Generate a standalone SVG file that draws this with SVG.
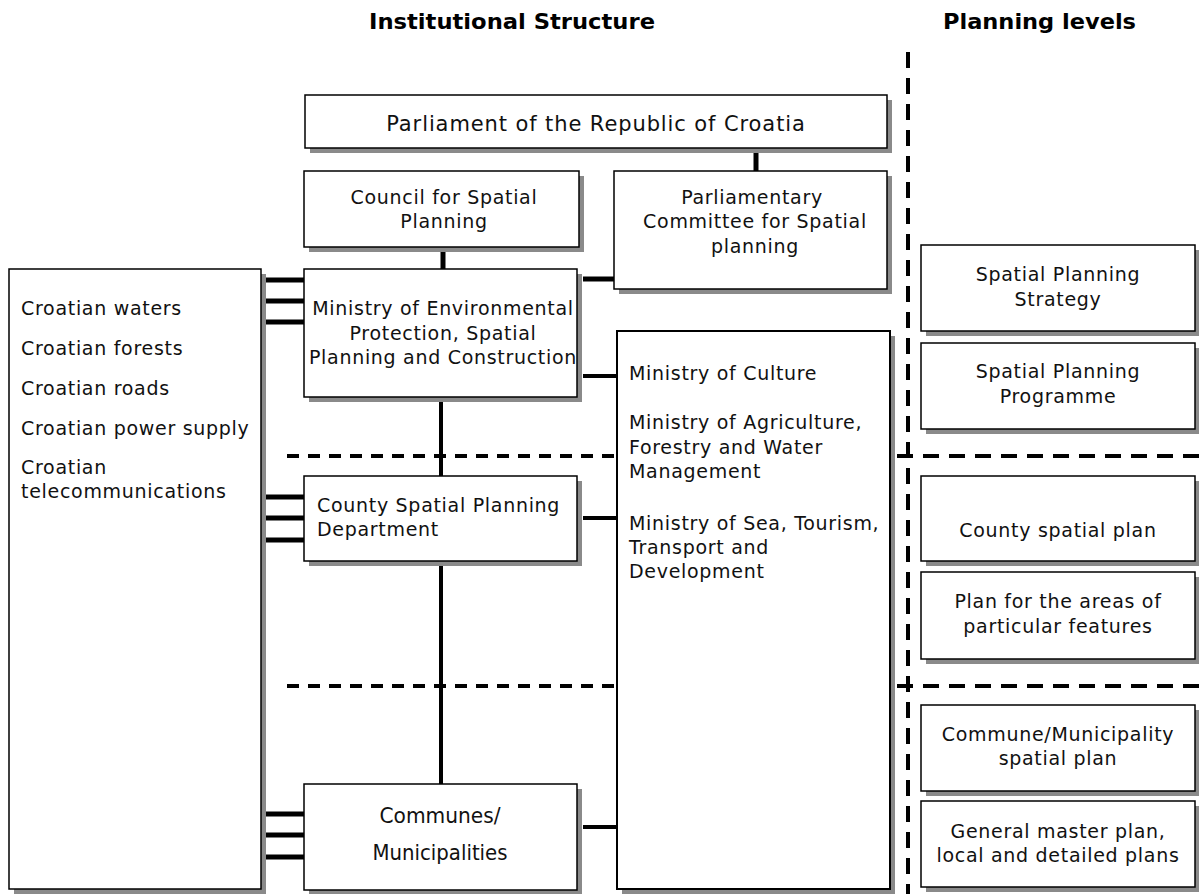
<svg xmlns="http://www.w3.org/2000/svg" width="1199" height="894" viewBox="0 0 1199 894">
<defs>
<style>
.box{fill:#fff;stroke:#000;stroke-width:1.5}
.sh{fill:#8a8a8a}
.t{font-family:"DejaVu Sans",Verdana,sans-serif;font-size:19px;letter-spacing:0.7px;fill:#111}
.c{text-anchor:middle}
.h{font-family:"DejaVu Sans Condensed","Liberation Sans",sans-serif;font-weight:bold;font-size:21px;fill:#000}
.cn{font-family:"DejaVu Sans Condensed","Liberation Sans",sans-serif;font-size:21px;fill:#111;text-anchor:middle}
.ln{stroke:#000;stroke-width:5;fill:none}
.ln4{stroke:#000;stroke-width:4;fill:none}
.dl{stroke:#000;stroke-width:4;stroke-dasharray:12 9;fill:none}
.dr{stroke:#000;stroke-width:4;stroke-dasharray:16 10;fill:none}
</style>
</defs>
<rect width="1199" height="894" fill="#fff"/>
<text class="h" x="369" y="29" textLength="286" lengthAdjust="spacingAndGlyphs">Institutional Structure</text>
<text class="h" x="943" y="29" textLength="193" lengthAdjust="spacingAndGlyphs">Planning levels</text>

<g id="connectors">
<line class="dr" x1="908" y1="52" x2="908" y2="894"/>
<line class="dl" x1="287" y1="456" x2="617" y2="456"/>
<line class="dr" x1="897" y1="456" x2="1199" y2="456"/>
<line class="dl" x1="287" y1="686" x2="617" y2="686"/>
<line class="dr" x1="897" y1="686" x2="1199" y2="686"/>
<line class="ln" x1="756" y1="148" x2="756" y2="171"/>
<line class="ln" x1="443" y1="247" x2="443" y2="269"/>
<line class="ln" x1="583" y1="279" x2="614" y2="279"/>
<line class="ln" x1="261" y1="280" x2="304" y2="280"/>
<line class="ln" x1="261" y1="301" x2="304" y2="301"/>
<line class="ln" x1="261" y1="322" x2="304" y2="322"/>
<line class="ln" x1="261" y1="497" x2="304" y2="497"/>
<line class="ln" x1="261" y1="518" x2="304" y2="518"/>
<line class="ln" x1="261" y1="540" x2="304" y2="540"/>
<line class="ln" x1="261" y1="814" x2="304" y2="814"/>
<line class="ln" x1="261" y1="835" x2="304" y2="835"/>
<line class="ln" x1="261" y1="857" x2="304" y2="857"/>
<line class="ln4" x1="583" y1="376" x2="617" y2="376"/>
<line class="ln4" x1="583" y1="518" x2="617" y2="518"/>
<line class="ln4" x1="583" y1="827" x2="617" y2="827"/>
<line class="ln4" x1="441" y1="397" x2="441" y2="784"/>
</g>

<g id="parliament">
<rect class="sh" x="310" y="100" width="582" height="53"/>
<rect class="box" x="305" y="95" width="582" height="53"/>
<text class="t c" x="596" y="131" style="font-size:21px;letter-spacing:0.9px">Parliament of the Republic of Croatia</text>
</g>

<g id="council">
<rect class="sh" x="309" y="176" width="275" height="76"/>
<rect class="box" x="304" y="171" width="275" height="76"/>
<text class="t c" x="444" y="204">Council for Spatial</text>
<text class="t c" x="444" y="228">Planning</text>
</g>

<g id="committee">
<rect class="sh" x="619" y="176" width="273" height="118"/>
<rect class="box" x="614" y="171" width="273" height="118"/>
<text class="t c" x="752" y="204">Parliamentary</text>
<text class="t c" x="755" y="228">Committee for Spatial</text>
<text class="t c" x="755" y="253">planning</text>
</g>

<g id="ministry-env">
<rect class="sh" x="309" y="274" width="273" height="128"/>
<rect class="box" x="304" y="269" width="273" height="128"/>
<text class="t c" x="443" y="315">Ministry of Environmental</text>
<text class="t c" x="443" y="340">Protection, Spatial</text>
<text class="t c" x="443" y="364">Planning and Construction</text>
</g>

<g id="ministries">
<rect class="sh" x="622" y="336" width="273" height="558"/>
<rect class="box" x="617" y="331" width="273" height="558" style="stroke-width:2"/>
<text class="t" x="629" y="380">Ministry of Culture</text>
<text class="t" x="629" y="429">Ministry of Agriculture,</text>
<text class="t" x="629" y="454">Forestry and Water</text>
<text class="t" x="629" y="478">Management</text>
<text class="t" x="629" y="530">Ministry of Sea, Tourism,</text>
<text class="t" x="629" y="554">Transport and</text>
<text class="t" x="629" y="578">Development</text>
</g>

<g id="county-dept">
<rect class="sh" x="309" y="481" width="273" height="85"/>
<rect class="box" x="304" y="476" width="273" height="85"/>
<text class="t" x="317" y="512">County Spatial Planning</text>
<text class="t" x="317" y="536">Department</text>
</g>

<g id="communes">
<rect class="sh" x="309" y="789" width="273" height="106"/>
<rect class="box" x="304" y="784" width="273" height="106"/>
<text class="cn" x="440" y="823" textLength="121" lengthAdjust="spacingAndGlyphs">Communes/</text>
<text class="cn" x="440" y="860" textLength="135" lengthAdjust="spacingAndGlyphs">Municipalities</text>
</g>

<g id="companies">
<rect class="sh" x="14" y="274" width="252" height="620"/>
<rect class="box" x="9" y="269" width="252" height="620"/>
<text class="t" x="21" y="315">Croatian waters</text>
<text class="t" x="21" y="355">Croatian forests</text>
<text class="t" x="21" y="395">Croatian roads</text>
<text class="t" x="21" y="435">Croatian power supply</text>
<text class="t" x="21" y="474">Croatian</text>
<text class="t" x="21" y="498">telecommunications</text>
</g>

<g id="strategy">
<rect class="sh" x="926" y="250" width="274" height="86"/>
<rect class="box" x="921" y="245" width="274" height="86"/>
<text class="t c" x="1058" y="281">Spatial Planning</text>
<text class="t c" x="1058" y="306">Strategy</text>
</g>

<g id="programme">
<rect class="sh" x="926" y="348" width="274" height="86"/>
<rect class="box" x="921" y="343" width="274" height="86"/>
<text class="t c" x="1058" y="378">Spatial Planning</text>
<text class="t c" x="1058" y="403">Programme</text>
</g>

<g id="county-plan">
<rect class="sh" x="926" y="481" width="274" height="85"/>
<rect class="box" x="921" y="476" width="274" height="85"/>
<text class="t c" x="1058" y="537">County spatial plan</text>
</g>

<g id="features-plan">
<rect class="sh" x="926" y="577" width="274" height="87"/>
<rect class="box" x="921" y="572" width="274" height="87"/>
<text class="t c" x="1058" y="608">Plan for the areas of</text>
<text class="t c" x="1058" y="633">particular features</text>
</g>

<g id="commune-plan">
<rect class="sh" x="926" y="710" width="274" height="86"/>
<rect class="box" x="921" y="705" width="274" height="86"/>
<text class="t c" x="1058" y="741">Commune/Municipality</text>
<text class="t c" x="1058" y="765">spatial plan</text>
</g>

<g id="master-plan">
<rect class="sh" x="926" y="806" width="274" height="86"/>
<rect class="box" x="921" y="801" width="274" height="86"/>
<text class="t c" x="1058" y="838">General master plan,</text>
<text class="t c" x="1058" y="862">local and detailed plans</text>
</g>
</svg>
